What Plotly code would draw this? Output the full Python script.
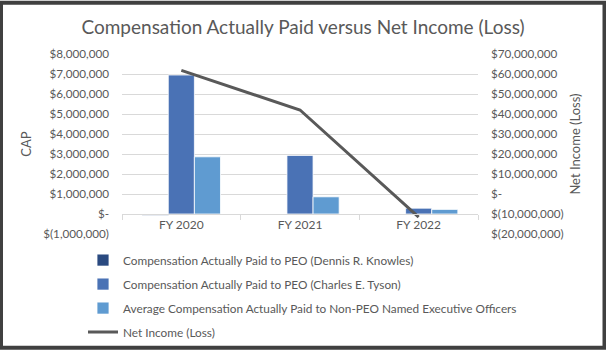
import plotly.graph_objects as go

categories = ["FY 2020", "FY 2021", "FY 2022"]
cap_dennis = [-70000, None, None]
cap_charles = [6950000, 2930000, 290000]
cap_non_peo = [2860000, 860000, 230000]
net_income = [61800000, 42000000, -11600000]

left_tickvals = [-1000000, 0, 1000000, 2000000, 3000000, 4000000, 5000000, 6000000, 7000000, 8000000]
left_ticktext = ["$(1,000,000)", "$-", "$1,000,000", "$2,000,000", "$3,000,000", "$4,000,000",
                 "$5,000,000", "$6,000,000", "$7,000,000", "$8,000,000"]
right_tickvals = [-20000000, -10000000, 0, 10000000, 20000000, 30000000, 40000000, 50000000, 60000000, 70000000]
right_ticktext = ["$(20,000,000)", "$(10,000,000)", "$-", "$10,000,000", "$20,000,000", "$30,000,000",
                  "$40,000,000", "$50,000,000", "$60,000,000", "$70,000,000"]

FONT = "Lato"
GRAY = "#595959"
W, H = 606, 359
L, R, T, B = 122, 128, 54, 119
PW, PH = W - L - R, H - T - B

def px_x(px):
    return (px - L) / PW

def px_y(py):
    return (H - B - py) / PH

fig = go.Figure()
fig.add_trace(go.Bar(x=categories, y=cap_dennis, name="Compensation Actually Paid to PEO (Dennis R. Knowles)",
                     marker=dict(color="#2A4A80", line=dict(color="white", width=0.8)), legendgroup="a"))
fig.add_trace(go.Bar(x=categories, y=cap_charles, name="Compensation Actually Paid to PEO (Charles E. Tyson)",
                     marker=dict(color="#4A72B5", line=dict(color="white", width=0.8)), legendgroup="b"))
fig.add_trace(go.Bar(x=categories, y=cap_non_peo, name="Average Compensation Actually Paid to Non-PEO Named Executive Officers",
                     marker=dict(color="#5F9BD1", line=dict(color="white", width=0.8)), legendgroup="c"))
fig.add_trace(go.Scatter(x=categories, y=net_income, name="Net Income (Loss)", mode="lines",
                         line=dict(color=GRAY, width=3), yaxis="y2", legendgroup="d"))

fig.update_layout(
    width=W, height=H,
    margin=dict(l=L, r=R, t=T, b=B),
    paper_bgcolor="white", plot_bgcolor="rgba(0,0,0,0)",
    font=dict(family=FONT, color=GRAY, size=11.7),
    title=dict(text="Compensation Actually Paid versus Net Income (Loss)", x=0.5, xanchor="center",
               y=1 - 27 / H, yanchor="middle", yref="container", font=dict(size=19, color=GRAY)),
    barmode="group", bargap=0.34, bargroupgap=0,
    xaxis=dict(anchor="free", position=1 / 9, showline=True, linecolor="#d9d9d9", linewidth=1,
               ticks="outside", tickson="boundaries", ticklen=5, tickcolor="#d9d9d9",
               showgrid=False, tickfont=dict(size=12, color=GRAY)),
    yaxis=dict(range=[-1000000, 8000000], tickvals=left_tickvals, ticktext=left_ticktext,
               showgrid=True, gridcolor="#d9d9d9", gridwidth=1, zeroline=False,
               ticklabelstandoff=12, tickfont=dict(size=11.7, color=GRAY),
               title=dict(text="CAP", font=dict(size=13, color=GRAY), standoff=8)),
    yaxis2=dict(range=[-20000000, 70000000], tickvals=right_tickvals, ticktext=right_ticktext,
                overlaying="y", side="right", showgrid=False, zeroline=False,
                ticklabelstandoff=12, tickfont=dict(size=11.7, color=GRAY),
                title=dict(text="Net Income (Loss)", font=dict(size=13, color=GRAY), standoff=8)),
    legend=dict(x=px_x(83), xanchor="left", y=px_y(252), yanchor="top", orientation="v",
                font=dict(size=11.8, color=GRAY), tracegroupgap=5, bgcolor="rgba(0,0,0,0)"),
    shapes=[dict(type="rect", xref="paper", yref="paper",
                 x0=px_x(1), x1=px_x(604.5), y0=px_y(357.5), y1=px_y(1),
                 line=dict(color="#404040", width=4), fillcolor="rgba(0,0,0,0)")],
)

fig.write_html("out.html", config={"displayModeBar": False},
               post_script="document.documentElement.style.margin='0';document.body.style.margin='0';")
